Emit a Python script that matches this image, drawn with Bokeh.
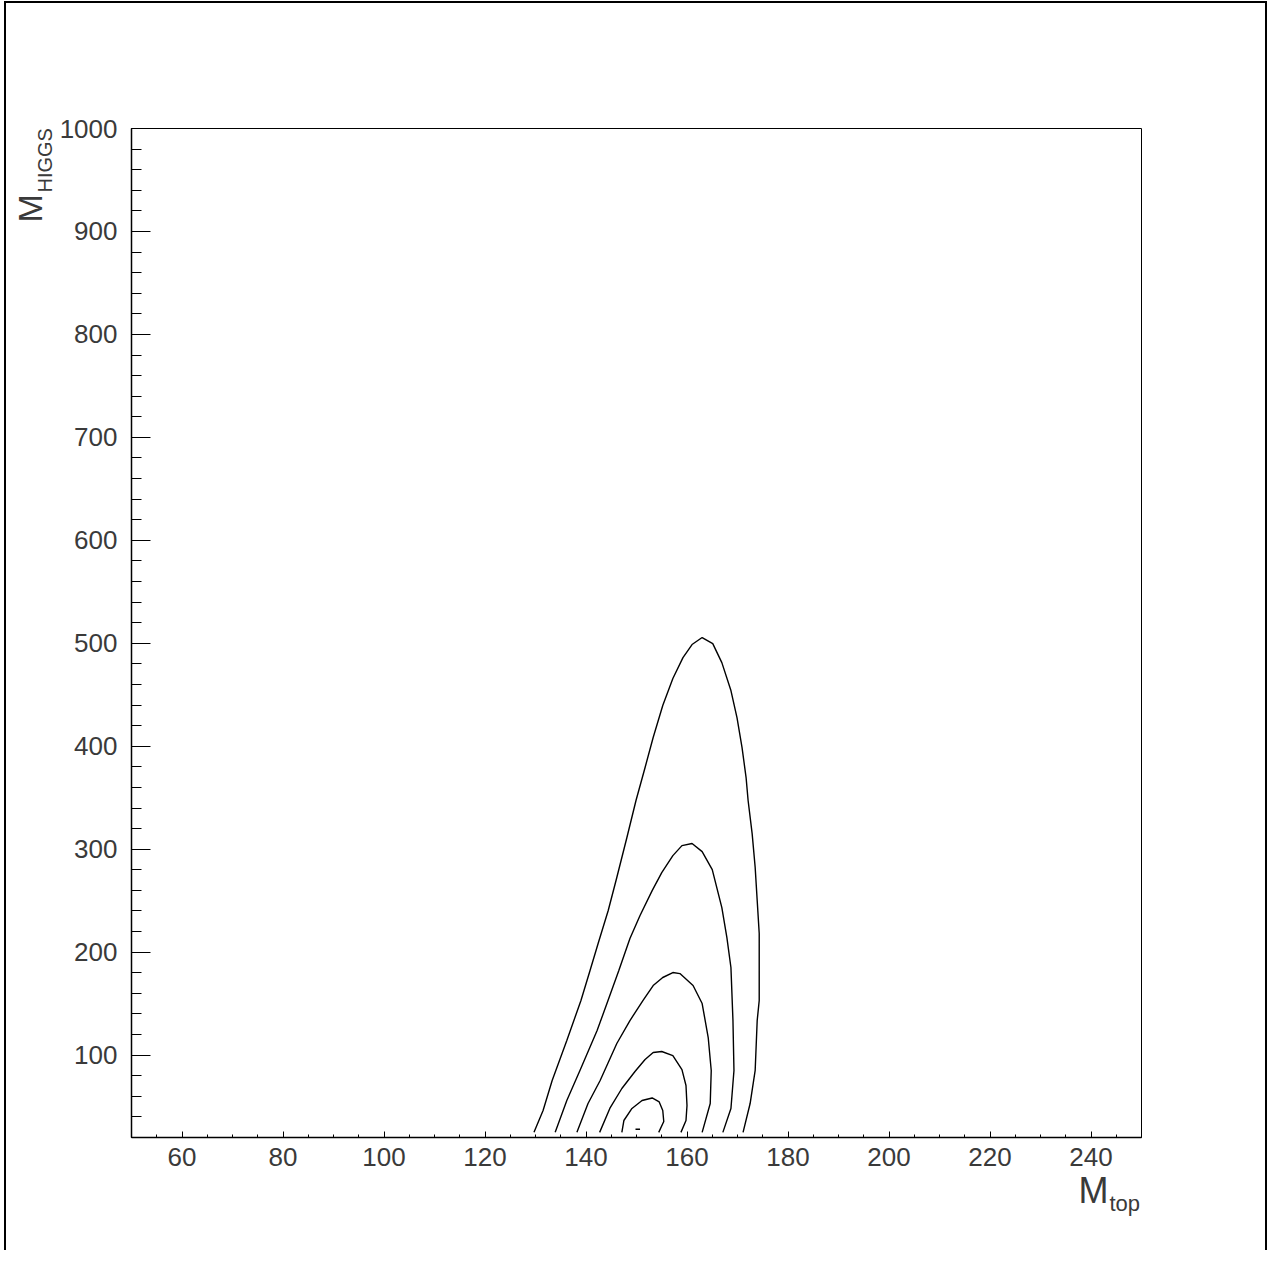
import math
from bokeh.plotting import figure
from bokeh.models import Range1d, FixedTicker, Label, ColumnDataSource
from bokeh.embed import file_html
from bokeh.resources import INLINE

# ---- data ----
x_ticks = [60, 80, 100, 120, 140, 160, 180, 200, 220, 240]
x_minor = list(range(50, 255, 5))
y_ticks = [100, 200, 300, 400, 500, 600, 700, 800, 900, 1000]
y_minor = list(range(20, 1020, 20))

c1_x = [129.7, 131.5, 133.3, 136.2, 139.0, 140.8, 142.4, 144.4, 146.1, 148.1, 149.9, 151.7,
        153.3, 155.2, 157.2, 159.2, 161.0, 163.0, 165.1, 166.9, 168.7, 169.9, 170.9, 171.7,
        172.1, 172.9, 173.5, 173.9, 174.3, 174.3, 174.3, 173.9, 173.5, 172.5, 171.1]
c1_y = [25, 46.2, 75.4, 114.2, 153.1, 182.2, 208.4, 240.5, 272.5, 311.4, 347.3, 379.4,
        408.5, 439.6, 465.8, 486.1, 498.8, 505.6, 499.7, 481.2, 454.1, 427.8, 398.7, 369.6,
        347.3, 315.2, 282.2, 250.2, 218.1, 182.2, 153.1, 133.6, 85.1, 53.0, 25]
c2_x = [133.9, 136.2, 138.8, 142.2, 144.0, 146.5, 148.7, 150.7, 153.1, 155.0, 157.2, 159.0,
        161.0, 163.0, 165.0, 166.9, 167.9, 168.7, 169.1, 169.3, 168.7, 167.1]
c2_y = [25, 55.9, 85.1, 123.9, 148.2, 182.2, 213.2, 235.6, 259.8, 277.3, 293.8, 303.5,
        305.5, 297.7, 280.2, 243.3, 214.2, 185.1, 133.6, 85.1, 48.2, 25]
c3_x = [138.2, 140.4, 142.8, 146.1, 148.7, 151.3, 153.3, 155.2, 157.2, 158.6, 161.2, 163.0,
        164.2, 164.8, 164.6, 163.0]
c3_y = [25, 53.0, 75.4, 111.3, 133.6, 153.1, 167.6, 175.4, 180.2, 179.2, 167.6, 150.1,
        117.1, 85.1, 53.0, 25]
c4_x = [142.7, 144.8, 147.1, 149.7, 151.7, 153.3, 155.0, 157.2, 159.0, 159.8, 160.0, 159.8, 158.8]
c4_y = [25, 49.1, 67.6, 84.1, 95.7, 102.5, 103.5, 99.6, 86.0, 70.5, 51.1, 36.5, 25]
c5_x = [147.1, 147.5, 149.1, 151.1, 153.1, 154.5, 155.2, 155.4, 154.4]
c5_y = [25, 36.5, 48.2, 55.9, 58.4, 54.5, 46.2, 35.5, 25]
c6_x = [149.8, 150.7]
c6_y = [28, 28]

X_MIN, X_MAX = 50, 250
Y_MIN, Y_MAX = 20, 1000

# ---- figure ----
W, H = 1271, 1250
ML, MT, FW, FH = 131, 128, 1010, 1009

p = figure(width=W, height=H, output_backend="svg", toolbar_location=None,
           x_range=Range1d(X_MIN, X_MAX), y_range=Range1d(Y_MIN, Y_MAX),
           min_border_left=ML, min_border_top=MT,
           min_border_right=W - ML - FW, min_border_bottom=H - MT - FH)
# outer page frame (left, top, right edges)
p.styles = {
    "background": "white",
    "box-shadow": ("inset 4px 0 0 #fff, inset -4px 0 0 #fff, inset 0 1px 0 #fff, "
                   "inset 6px 0 0 #000, inset -6px 0 0 #000, inset 0 3px 0 #000"),
}
p.xgrid.visible = False
p.ygrid.visible = False
p.outline_line_color = "black"
p.outline_line_width = 1
p.background_fill_color = "white"
p.border_fill_color = None

FONT = "Liberation Sans"
TXT = "#3a3a3a"

for ax in (p.xaxis[0], p.yaxis[0]):
    ax.axis_line_color = "black"
    ax.axis_line_width = 1.5
    ax.major_tick_line_color = "black"
    ax.minor_tick_line_color = "black"
    ax.major_tick_out = 0
    ax.minor_tick_out = 0
    ax.major_label_text_font = FONT
    ax.major_label_text_font_size = "26px"
    ax.major_label_text_color = TXT

p.xaxis[0].ticker = FixedTicker(ticks=x_ticks, minor_ticks=x_minor)
p.xaxis[0].major_tick_in = 6
p.xaxis[0].minor_tick_in = 3
p.xaxis[0].major_label_standoff = 10

p.yaxis[0].ticker = FixedTicker(ticks=y_ticks, minor_ticks=y_minor)
p.yaxis[0].major_tick_in = 19
p.yaxis[0].minor_tick_in = 10
p.yaxis[0].major_label_standoff = 14

src = ColumnDataSource(dict(xs=[c1_x, c2_x, c3_x, c4_x, c5_x, c6_x],
                            ys=[c1_y, c2_y, c3_y, c4_y, c5_y, c6_y]))
p.multi_line(xs="xs", ys="ys", source=src, line_color="black", line_width=1.4)

# pixel -> data helpers for title placement
def dx(px):
    return X_MIN + (px - ML) * (X_MAX - X_MIN) / FW

def dy(py):
    return Y_MIN + ((MT + FH) - py) * (Y_MAX - Y_MIN) / FH

def lab(text, px, py, size, place, angle=0.0):
    p.add_layout(Label(x=dx(px), y=dy(py), text=text, angle=angle,
                       text_font=FONT, text_font_size=size, text_color=TXT,
                       text_align="left", text_baseline="alphabetic"), place)

lab("M", 1078, 1190, "36px", "right")
lab("top", 1109, 1203, "22px", "right")
lab("M", 29, 222, "34px", "above", math.pi / 2)
lab("HIGGS", 44, 192, "20px", "above", math.pi / 2)

open("out.html", "w").write(file_html(p, INLINE))
